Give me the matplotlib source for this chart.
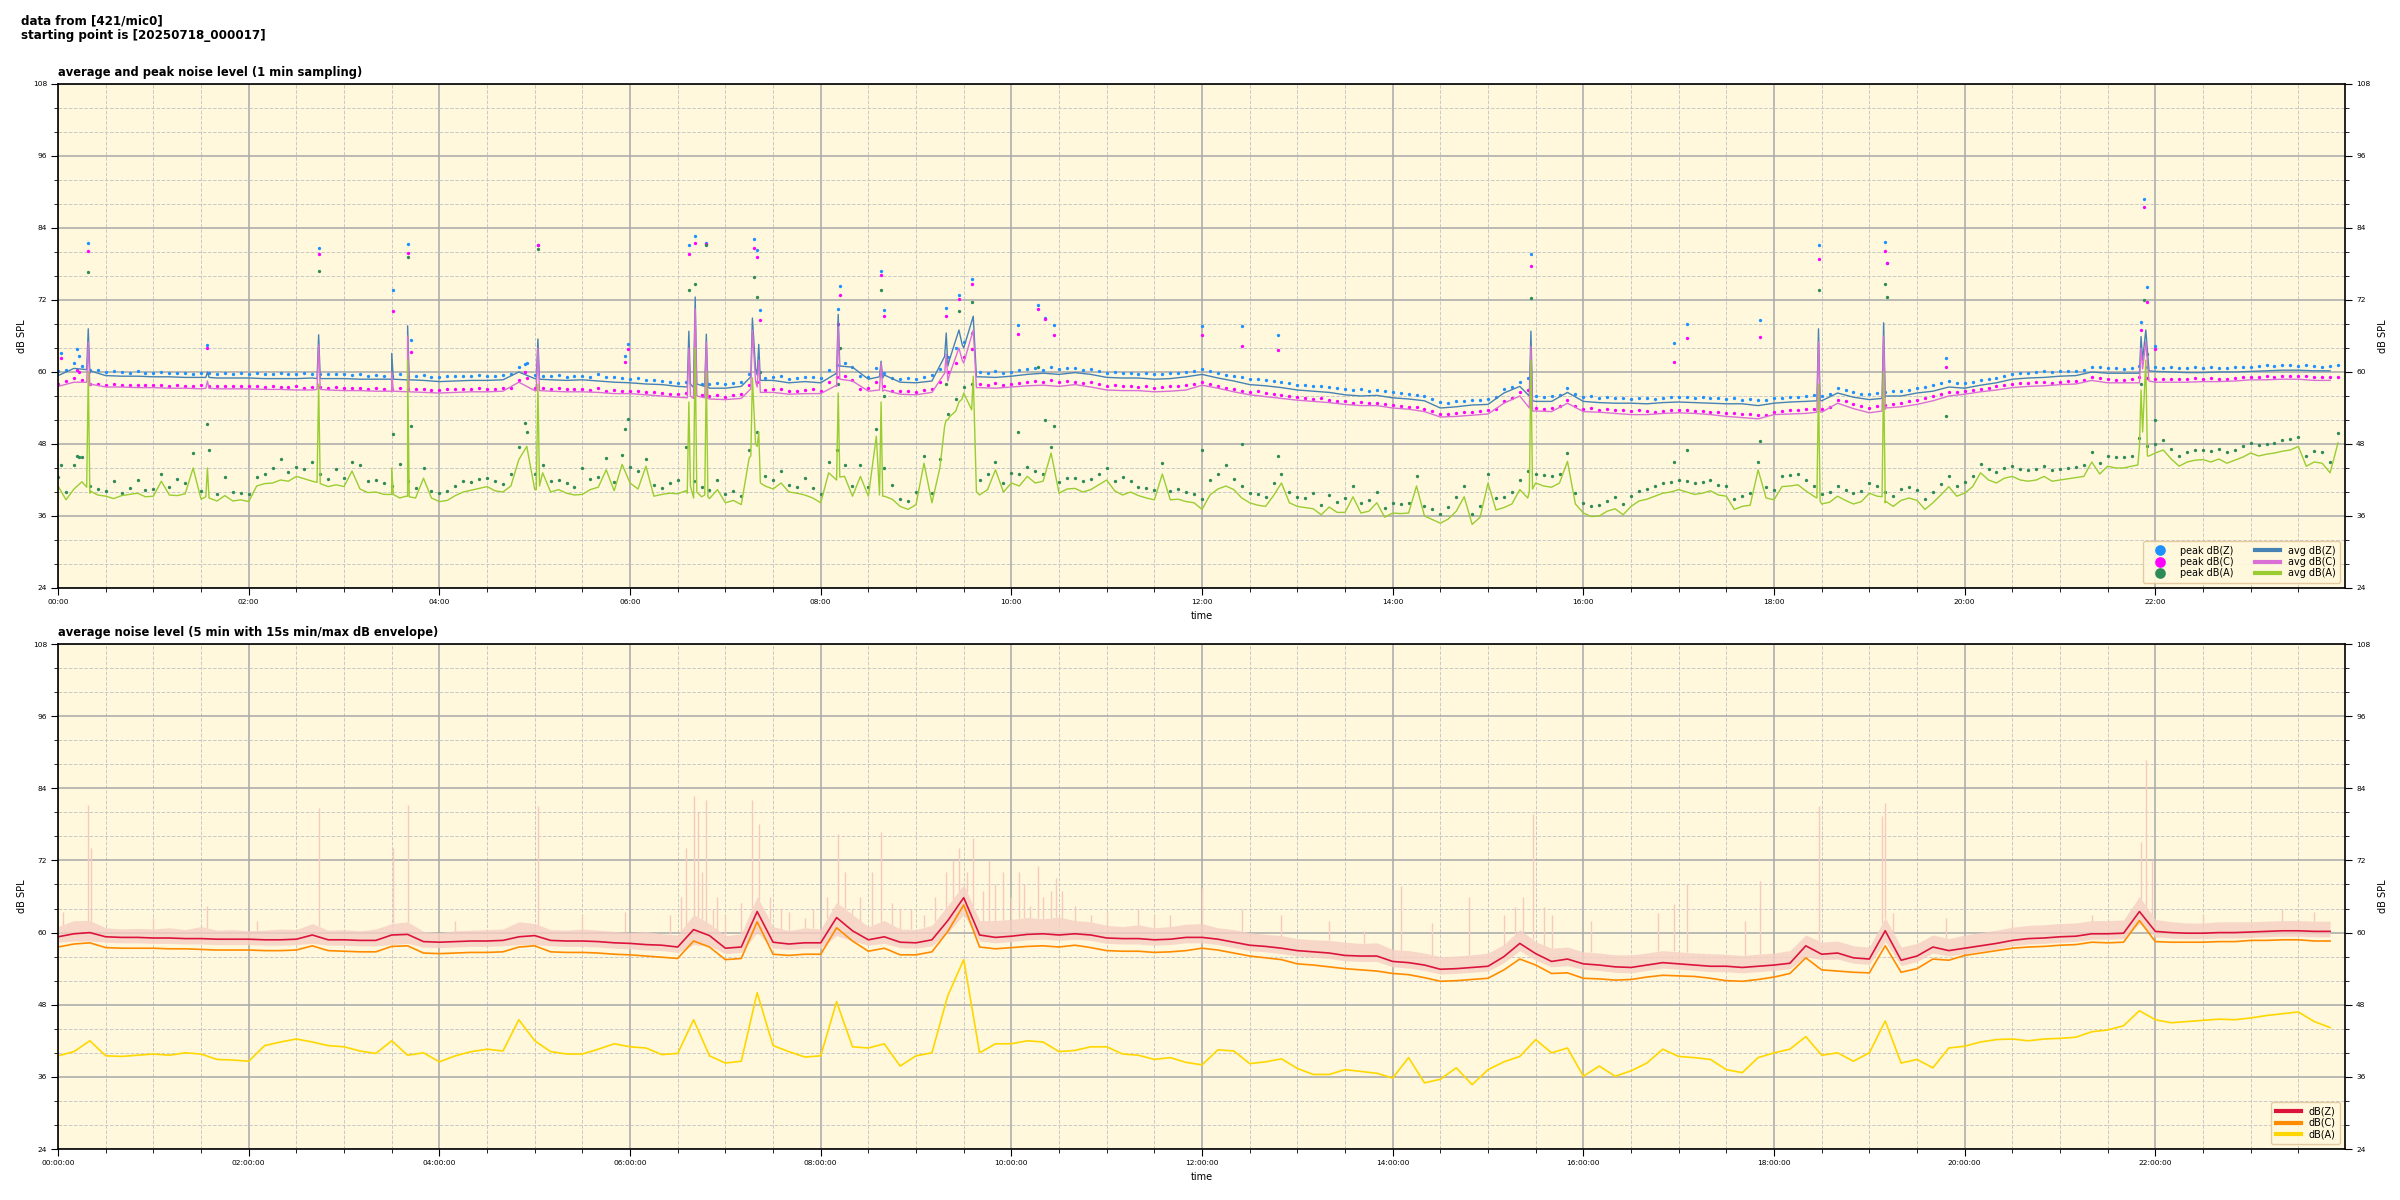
import numpy as np
import matplotlib
matplotlib.use("Agg")
import matplotlib.pyplot as plt
from matplotlib.ticker import MultipleLocator, FixedLocator, FuncFormatter

# ---------------- DATA (minutes after 00:00) ----------------
# top chart: 1-min averages, read every 10 min (Z, C) and every 5 min (A)
avg_z_10min = [
    59.4, 60.6, 59.8, 59.4, 59.3, 59.3,
    59.2, 59.2, 59.1, 59.1, 59.0, 59.0,
    59.0, 58.9, 58.9, 58.9, 59.0, 58.9,
    58.9, 58.8, 58.8, 58.7, 58.6, 58.6,
    58.4, 58.5, 58.6, 58.6, 58.7, 60.0,
    58.9, 58.7, 58.6, 58.7, 58.5, 58.3,
    58.2, 58.0, 57.9, 57.6, 57.4, 57.3,
    57.3, 57.6, 59.5, 58.6, 58.2, 58.4,
    58.2, 59.8, 60.8, 58.8, 59.5, 58.3,
    58.2, 58.5, 61.0, 64.0, 59.2, 59.1,
    59.3, 59.6, 59.8, 59.6, 59.9, 59.6,
    59.1, 59.0, 59.0, 58.8, 58.9, 59.2,
    59.6, 59.0, 58.5, 57.9, 57.7, 57.4,
    57.0, 56.8, 56.6, 56.2, 56.0, 56.1,
    55.7, 55.5, 55.2, 54.0, 54.2, 54.5,
    54.6, 56.5, 57.6, 55.1, 55.1, 56.6,
    55.1, 54.9, 54.8, 54.8, 54.7, 54.9,
    55.0, 54.9, 54.8, 54.7, 54.7, 54.4,
    54.8, 55.0, 55.1, 55.2, 56.5, 55.8,
    55.4, 55.8, 56.0, 56.5, 56.8, 57.5,
    57.3, 57.8, 58.2, 58.8, 59.0, 59.1,
    59.3, 59.4, 60.0, 59.8, 59.8, 59.8,
    60.1, 60.0, 59.9, 59.9, 60.0, 60.0,
    60.1, 60.2, 60.3, 60.3, 60.2, 60.2,
]
avg_c_10min = [
    57.6, 58.3, 57.7, 57.5, 57.5, 57.4,
    57.4, 57.3, 57.3, 57.2, 57.2, 57.2,
    57.2, 57.1, 57.1, 57.0, 57.0, 57.0,
    56.9, 56.9, 56.8, 56.7, 56.7, 56.6,
    56.5, 56.6, 56.7, 56.7, 56.8, 58.3,
    56.9, 56.8, 56.7, 56.7, 56.6, 56.4,
    56.4, 56.2, 56.0, 55.8, 55.6, 55.5,
    55.4, 55.6, 57.5, 56.6, 56.3, 56.4,
    56.4, 57.8, 58.5, 56.8, 57.0, 56.3,
    56.2, 56.6, 58.5, 61.5, 57.4, 57.3,
    57.5, 57.7, 57.8, 57.6, 57.9, 57.5,
    57.0, 56.9, 56.9, 56.7, 56.8, 57.0,
    57.8, 57.3, 56.7, 56.2, 55.9, 55.6,
    55.3, 55.1, 54.9, 54.6, 54.4, 54.4,
    54.0, 53.8, 53.4, 52.5, 52.6, 52.8,
    53.0, 54.8, 56.0, 53.5, 53.4, 54.8,
    53.4, 53.3, 53.1, 52.9, 52.9, 53.1,
    53.2, 53.1, 52.9, 52.6, 52.4, 52.2,
    52.9, 53.0, 53.1, 53.3, 54.8, 53.9,
    53.2, 53.8, 54.2, 54.6, 55.2, 56.0,
    56.3, 56.7, 57.0, 57.4, 57.6, 57.7,
    57.9, 58.0, 58.6, 58.2, 58.2, 58.2,
    58.3, 58.3, 58.3, 58.4, 58.4, 58.5,
    58.7, 58.7, 58.8, 58.8, 58.6, 58.6,
]
avg_a_5min = [
    41.0, 38.7, 40.5, 41.7, 39.8, 39.5, 39.3, 38.9, 39.4, 39.6, 39.8, 39.2,
    39.3, 41.8, 39.5, 39.4, 39.7, 44.0, 38.8, 39.0, 38.5, 39.4, 38.5, 38.7,
    38.4, 41.0, 41.4, 41.5, 42.0, 41.8, 42.6, 42.2, 41.8, 41.5, 40.9, 41.2,
    40.9, 43.5, 40.5, 39.9, 40.0, 39.6, 39.6, 39.0, 39.3, 39.0, 42.3, 39.0,
    38.4, 38.6, 39.4, 40.0, 40.3, 40.6, 40.9, 40.2, 40.0, 41.0, 45.4, 47.6,
    40.4, 43.2, 40.0, 40.4, 39.8, 39.5, 39.6, 40.4, 40.8, 43.7, 40.2, 44.6,
    41.5, 40.5, 44.3, 39.3, 39.6, 39.8, 39.7, 40.2, 39.0, 39.2, 38.9, 40.4,
    38.2, 38.6, 37.9, 45.7, 47.6, 41.0, 40.5, 41.5, 40.0, 39.8, 39.5, 39.0,
    38.2, 43.2, 42.0, 42.6, 39.3, 42.6, 39.3, 49.3, 39.3, 38.8, 37.6, 37.1,
    37.9, 44.8, 38.2, 44.0, 52.0, 53.5, 56.5, 53.7, 39.5, 40.4, 43.7, 40.0,
    41.5, 41.0, 42.6, 41.5, 41.8, 46.5, 39.8, 40.5, 40.6, 40.0, 40.4, 41.2,
    42.0, 40.2, 39.5, 40.0, 39.4, 39.0, 38.7, 43.0, 38.7, 38.8, 38.4, 38.2,
    37.1, 39.5, 40.5, 41.0, 40.4, 39.0, 38.2, 37.8, 37.6, 39.4, 41.5, 38.2,
    37.6, 37.4, 37.2, 36.2, 37.5, 36.6, 36.6, 39.2, 36.5, 36.8, 38.2, 35.8,
    36.5, 36.4, 36.5, 41.0, 36.0, 35.4, 34.8, 35.5, 36.8, 39.2, 34.6, 35.8,
    41.5, 37.0, 37.4, 38.0, 40.4, 39.0, 41.5, 41.0, 40.8, 41.5, 45.1, 38.0,
    36.5, 35.9, 36.0, 36.8, 37.2, 36.2, 37.6, 38.5, 38.8, 39.3, 39.8, 40.0,
    40.4, 40.0, 39.6, 39.8, 40.2, 39.5, 39.3, 37.1, 37.6, 37.8, 43.7, 39.0,
    38.7, 40.9, 41.0, 41.2, 40.2, 39.3, 38.0, 38.3, 39.3, 38.6, 38.0, 38.4,
    39.8, 39.3, 38.2, 37.6, 38.6, 39.0, 38.6, 37.1, 38.2, 39.5, 40.9, 39.3,
    39.8, 40.9, 43.2, 42.0, 41.5, 42.3, 42.6, 42.0, 41.8, 42.0, 42.6, 41.8,
    42.0, 42.2, 42.4, 42.6, 45.0, 43.0, 44.3, 44.0, 44.0, 44.3, 47.6, 46.0,
    46.5, 47.0, 45.5, 44.3, 45.0, 45.3, 45.4, 45.0, 45.5, 44.8, 45.3, 45.8,
    46.5, 46.0, 46.3, 46.5, 46.8, 47.0, 47.6, 44.3, 45.0, 44.8, 43.2, 48.2,
]
# short events in the 1-min averages: minute, Z, C, A
spike_t = [18, 19, 20, 93, 94, 95, 163, 164, 165, 209, 210, 211, 219, 220, 221,
           301, 302, 303, 396, 397, 398, 400, 401, 402, 407, 408, 409,
           436, 437, 439, 441, 442, 490, 491, 492, 517, 518, 519,
           558, 559, 561, 567, 569, 576, 578, 926, 927, 928,
           1107, 1108, 1109, 1148, 1149, 1150, 1309, 1311, 1312, 1314, 1316]
spike_z = [60.4, 67.2, 60.2, 59.1, 60.0, 59.1, 58.9, 66.2, 58.9, 58.8, 63.1, 58.8, 58.7, 67.7, 58.7,
           58.9, 65.5, 58.8, 57.5, 66.8, 58.0, 58.5, 72.5, 58.0, 57.6, 66.3, 57.5,
           59.2, 69.0, 60.5, 64.6, 58.6, 59.6, 69.6, 61.0, 59.2, 61.8, 59.0,
           62.6, 66.5, 62.0, 67.0, 64.6, 69.3, 59.2, 56.0, 66.8, 55.2,
           55.2, 67.2, 55.3, 55.6, 68.2, 56.0, 59.8, 65.9, 62.0, 67.0, 60.2]
spike_c = [58.3, 65.0, 58.0, 57.3, 58.5, 57.3, 57.1, 64.5, 57.1, 56.8, 60.0, 56.8, 56.7, 66.0, 56.7,
           56.9, 64.0, 56.9, 55.7, 64.0, 56.0, 56.5, 70.5, 56.0, 55.7, 65.0, 55.6,
           57.2, 67.0, 58.4, 62.0, 56.6, 57.6, 67.5, 58.8, 57.0, 61.5, 56.8,
           59.8, 63.0, 59.5, 64.0, 62.0, 67.0, 57.4, 54.0, 64.3, 53.5,
           53.3, 65.0, 53.4, 53.5, 66.0, 54.0, 58.2, 64.0, 60.5, 65.0, 58.5]
spike_a = [40.8, 60.0, 40.2, 39.2, 44.0, 39.0, 41.6, 58.0, 41.4, 39.6, 44.0, 39.6, 39.3, 62.0, 39.2,
           40.4, 58.0, 41.0, 39.8, 55.0, 41.0, 42.0, 64.0, 40.0, 39.5, 60.0, 39.2,
           46.0, 59.0, 48.0, 50.0, 41.5, 42.0, 56.5, 42.5, 39.5, 55.0, 39.3,
           51.0, 52.0, 52.5, 55.0, 55.5, 59.3, 40.0, 40.0, 62.0, 40.5,
           39.0, 58.0, 38.5, 39.2, 60.0, 38.5, 44.5, 57.0, 50.0, 62.0, 46.0]

# top chart: peak levels, read every 5 min
peak_z_5min = [
    60.2, 60.4, 61.5, 61.0, 60.4, 60.3, 60.0, 60.1, 60.0, 59.9, 60.1, 59.9,
    59.9, 60.0, 59.8, 59.9, 59.8, 59.7, 59.9, 59.8, 59.7, 59.8, 59.7, 59.8,
    59.7, 59.8, 59.6, 59.7, 59.8, 59.6, 59.7, 59.8, 59.6, 59.7, 59.6, 59.7,
    59.6, 59.5, 59.6, 59.4, 59.5, 59.4, 59.3, 59.6, 59.4, 59.3, 59.5, 59.2,
    59.2, 59.3, 59.3, 59.4, 59.3, 59.5, 59.4, 59.3, 59.5, 59.6, 60.8, 61.5,
    59.5, 59.4, 59.3, 59.5, 59.2, 59.4, 59.3, 59.2, 59.6, 59.1, 59.2, 59.0,
    58.9, 59.0, 58.7, 58.6, 58.5, 58.3, 58.2, 58.4, 58.1, 58.0, 58.0, 58.1,
    58.0, 58.2, 58.4, 59.6, 60.4, 59.0, 59.2, 59.4, 58.9, 59.0, 59.1, 59.2,
    59.0, 60.4, 61.2, 61.5, 60.8, 59.3, 59.2, 60.6, 59.8, 59.0, 58.9, 59.0,
    58.9, 59.2, 59.5, 60.5, 62.5, 64.0, 65.0, 66.5, 60.0, 59.9, 60.2, 59.9,
    60.0, 60.3, 60.5, 60.7, 60.4, 60.8, 60.5, 60.7, 60.6, 60.3, 60.5, 60.2,
    59.9, 60.0, 59.8, 59.9, 59.7, 59.8, 59.6, 59.7, 59.8, 59.9, 60.0, 60.2,
    60.5, 60.2, 59.8, 59.5, 59.3, 59.1, 58.8, 58.9, 58.6, 58.5, 58.4, 58.2,
    57.9, 57.8, 57.6, 57.7, 57.5, 57.3, 57.2, 57.0, 57.1, 56.9, 57.0, 56.8,
    56.6, 56.5, 56.3, 56.2, 56.0, 55.5, 55.0, 54.9, 55.1, 55.2, 55.3, 55.4,
    55.5, 55.8, 57.2, 57.5, 58.4, 59.0, 56.0, 55.9, 56.0, 56.2, 57.3, 56.3,
    55.9, 56.0, 55.7, 55.8, 55.6, 55.7, 55.5, 55.7, 55.6, 55.5, 55.7, 55.8,
    55.9, 55.8, 55.7, 55.8, 55.6, 55.7, 55.5, 55.6, 55.4, 55.5, 55.3, 55.4,
    55.6, 55.7, 55.8, 55.9, 56.0, 56.1, 56.0, 56.3, 57.3, 57.0, 56.6, 56.4,
    56.3, 56.5, 56.6, 56.8, 56.9, 57.0, 57.3, 57.5, 57.8, 58.2, 58.5, 58.2,
    58.1, 58.3, 58.6, 58.8, 59.0, 59.3, 59.6, 59.8, 59.9, 60.0, 60.1, 60.0,
    60.1, 60.2, 60.2, 60.4, 60.9, 60.8, 60.6, 60.6, 60.5, 60.7, 61.0, 60.8,
    60.8, 60.7, 60.8, 60.7, 60.6, 60.8, 60.7, 60.8, 60.6, 60.7, 60.8, 60.9,
    60.9, 61.0, 61.1, 61.0, 61.2, 61.1, 61.0, 61.1, 61.0, 60.9, 61.0, 61.1,
]
peak_c_5min = [
    58.0, 58.5, 59.0, 58.6, 58.0, 58.0, 57.9, 58.0, 57.9, 57.8, 57.9, 57.8,
    57.8, 57.9, 57.7, 57.8, 57.7, 57.6, 57.8, 57.7, 57.6, 57.7, 57.6, 57.7,
    57.6, 57.7, 57.5, 57.6, 57.5, 57.5, 57.6, 57.4, 57.5, 57.5, 57.4, 57.5,
    57.4, 57.3, 57.4, 57.2, 57.3, 57.2, 57.1, 57.3, 57.2, 57.1, 57.2, 57.0,
    57.0, 57.1, 57.1, 57.2, 57.1, 57.3, 57.2, 57.1, 57.3, 57.4, 58.6, 59.0,
    57.4, 57.3, 57.2, 57.3, 57.1, 57.2, 57.1, 57.0, 57.3, 56.9, 57.0, 56.9,
    56.9, 56.8, 56.7, 56.6, 56.5, 56.4, 56.3, 56.5, 56.2, 56.1, 56.0, 56.1,
    55.9, 56.1, 56.3, 57.8, 58.4, 57.0, 57.1, 57.2, 56.8, 56.9, 57.0, 57.1,
    56.9, 58.3, 59.1, 59.3, 58.6, 57.2, 57.3, 58.3, 57.6, 56.9, 56.8, 56.9,
    56.7, 57.0, 57.2, 58.3, 60.0, 61.5, 62.5, 63.8, 58.0, 57.9, 58.1, 57.8,
    58.0, 58.2, 58.4, 58.5, 58.3, 58.6, 58.3, 58.5, 58.4, 58.1, 58.3, 58.0,
    57.7, 57.8, 57.6, 57.7, 57.5, 57.6, 57.4, 57.5, 57.6, 57.7, 57.8, 58.0,
    58.3, 58.0, 57.6, 57.3, 57.1, 56.9, 56.7, 56.8, 56.5, 56.4, 56.2, 56.0,
    55.8, 55.7, 55.5, 55.6, 55.4, 55.2, 55.1, 54.9, 55.0, 54.8, 54.9, 54.7,
    54.5, 54.4, 54.2, 54.1, 53.9, 53.5, 53.0, 53.0, 53.2, 53.3, 53.4, 53.5,
    53.6, 53.9, 55.2, 55.6, 56.6, 57.0, 54.0, 53.9, 54.0, 54.3, 55.4, 54.3,
    53.9, 54.0, 53.7, 53.8, 53.6, 53.7, 53.5, 53.6, 53.5, 53.4, 53.5, 53.6,
    53.7, 53.6, 53.5, 53.5, 53.3, 53.4, 53.2, 53.2, 53.0, 53.0, 52.9, 52.8,
    53.4, 53.5, 53.6, 53.7, 53.8, 53.9, 53.8, 54.1, 55.4, 55.1, 54.6, 54.4,
    54.0, 54.3, 54.5, 54.7, 54.9, 55.1, 55.4, 55.6, 56.0, 56.4, 56.7, 56.6,
    56.8, 57.0, 57.2, 57.4, 57.6, 57.9, 58.0, 58.1, 58.2, 58.3, 58.3, 58.2,
    58.4, 58.5, 58.5, 58.6, 59.1, 59.0, 58.8, 58.7, 58.7, 58.9, 59.2, 59.0,
    58.9, 58.8, 58.9, 58.8, 58.8, 59.0, 58.9, 59.0, 58.9, 58.9, 59.0, 59.1,
    59.2, 59.2, 59.3, 59.2, 59.4, 59.3, 59.3, 59.4, 59.2, 59.1, 59.1, 59.2,
]
peak_a_5min = [
    42.5, 40.0, 44.5, 45.8, 41.0, 40.5, 40.2, 41.8, 39.8, 40.6, 42.0, 40.3,
    40.5, 43.0, 40.8, 42.2, 41.5, 46.5, 40.2, 47.0, 39.6, 42.5, 40.0, 39.8,
    39.6, 42.5, 43.0, 44.0, 45.5, 43.4, 44.2, 43.8, 45.0, 43.0, 42.2, 43.8,
    42.4, 45.0, 44.5, 41.8, 42.0, 41.5, 41.0, 44.6, 41.8, 40.6, 44.0, 40.2,
    39.8, 40.1, 41.0, 41.8, 41.6, 42.2, 42.3, 41.8, 41.4, 43.0, 47.5, 50.0,
    43.0, 44.5, 41.8, 42.0, 41.5, 40.8, 44.0, 42.2, 42.5, 45.6, 41.6, 46.2,
    44.2, 43.5, 45.5, 41.2, 40.6, 41.5, 42.0, 47.5, 41.8, 40.8, 40.4, 42.0,
    39.6, 40.2, 39.4, 47.0, 50.0, 42.6, 42.0, 43.5, 41.2, 40.8, 42.4, 40.6,
    39.6, 45.0, 47.0, 44.5, 41.0, 44.5, 40.8, 50.5, 44.0, 41.2, 38.8, 38.5,
    40.0, 46.0, 39.8, 45.5, 53.0, 55.5, 57.5, 58.0, 42.0, 43.0, 45.0, 41.5,
    43.2, 43.0, 44.2, 43.5, 43.0, 47.5, 41.6, 42.3, 42.4, 41.8, 42.2, 43.0,
    44.0, 41.8, 42.5, 41.8, 40.9, 40.6, 40.3, 44.8, 40.2, 40.5, 40.0, 39.6,
    38.8, 42.0, 43.0, 44.5, 42.2, 41.0, 39.8, 39.6, 39.2, 41.5, 43.0, 40.0,
    39.2, 39.0, 39.8, 37.8, 39.5, 38.4, 39.0, 41.0, 38.2, 38.6, 40.0, 37.4,
    38.2, 38.0, 38.2, 42.6, 37.6, 37.2, 36.4, 37.5, 39.2, 41.0, 36.4, 37.6,
    43.0, 39.0, 39.2, 40.0, 42.0, 43.5, 43.0, 42.8, 42.6, 43.0, 46.5, 39.8,
    38.2, 37.6, 37.8, 38.5, 39.2, 38.0, 39.4, 40.2, 40.5, 41.0, 41.5, 41.6,
    42.0, 41.8, 41.5, 41.6, 42.0, 41.2, 41.0, 38.8, 39.4, 39.8, 45.0, 40.8,
    40.4, 42.6, 42.8, 43.0, 42.0, 41.0, 39.6, 40.0, 41.0, 40.4, 39.8, 40.2,
    41.5, 41.0, 40.0, 39.4, 40.5, 40.8, 40.4, 38.8, 40.0, 41.4, 42.6, 41.0,
    41.6, 42.6, 44.6, 43.8, 43.4, 44.0, 44.4, 43.8, 43.6, 43.8, 44.4, 43.6,
    43.8, 44.0, 44.2, 44.5, 46.6, 44.8, 46.0, 45.8, 45.8, 46.0, 49.0, 47.6,
    48.0, 48.6, 47.2, 46.0, 46.6, 47.0, 47.0, 46.8, 47.2, 46.6, 47.0, 47.6,
    48.2, 47.8, 48.0, 48.2, 48.6, 48.8, 49.2, 46.0, 46.8, 46.6, 45.0, 49.8,
]
# isolated high peaks: minute, Z, C, A
hipk_t = [2, 12, 13, 19, 94, 164, 211, 220, 222, 294, 302, 357, 359, 397, 401, 408,
          438, 440, 442, 491, 492, 518, 520, 559, 567, 575, 604, 617, 621, 627,
          720, 745, 768, 927, 1017, 1025, 1071, 1108, 1150, 1151, 1188,
          1311, 1313, 1315, 1320]
hipk_z = [63.2, 63.8, 62.7, 81.5, 64.5, 80.7, 73.7, 81.4, 65.4, 61.4, 81.2, 62.6, 64.7, 81.1, 82.7, 81.5,
          82.1, 80.4, 70.3, 70.5, 74.3, 76.9, 70.4, 70.7, 72.9, 75.5, 67.9, 71.2, 69.0, 67.9,
          67.7, 67.7, 66.1, 79.7, 64.8, 68.0, 68.6, 81.1, 81.7, 78.2, 62.3,
          68.3, 88.8, 74.2, 64.3]
hipk_c = [62.3, 60.4, 60.0, 80.2, 64.0, 79.6, 70.2, 79.8, 63.4, 60.0, 81.2, 61.7, 63.8, 79.6, 81.5, 81.4,
          80.7, 79.2, 68.7, 68.0, 72.8, 76.1, 69.3, 69.3, 72.1, 74.6, 66.4, 70.5, 68.8, 66.2,
          66.2, 64.3, 63.7, 77.7, 61.7, 65.6, 65.8, 78.8, 80.1, 78.2, 60.9,
          67.0, 87.5, 71.7, 63.8]
hipk_a = [44.5, 46.0, 45.8, 76.7, 51.4, 76.9, 49.7, 79.2, 51.0, 51.5, 80.5, 50.5, 52.2, 73.6, 74.7, 81.1,
          75.8, 72.5, 60.0, 58.0, 64.0, 73.6, 56.0, 58.0, 70.1, 71.6, 50.0, 60.8, 52.0, 51.0,
          47.0, 48.0, 46.0, 72.3, 45.0, 47.0, 48.5, 73.6, 74.7, 72.5, 52.6,
          58.0, 72.0, 63.0, 52.0]

# bottom chart: 5-min averages, read every 10 min
avg5_z = [
    59.3, 59.8, 60.0, 59.3, 59.2, 59.2,
    59.1, 59.1, 59.0, 59.0, 58.9, 58.9,
    58.9, 58.8, 58.8, 58.9, 59.6, 58.8,
    58.8, 58.7, 58.7, 59.6, 59.7, 58.5,
    58.4, 58.5, 58.6, 58.6, 58.7, 59.3,
    59.5, 58.7, 58.6, 58.6, 58.5, 58.3,
    58.2, 58.0, 57.9, 57.6, 60.5, 59.5,
    57.4, 57.6, 63.5, 58.4, 58.1, 58.3,
    58.3, 62.5, 60.3, 58.8, 59.3, 58.4,
    58.3, 58.8, 62.0, 65.8, 59.6, 59.2,
    59.4, 59.7, 59.8, 59.6, 59.8, 59.6,
    59.1, 59.0, 59.0, 58.8, 58.9, 59.2,
    59.2, 58.9, 58.4, 57.9, 57.7, 57.4,
    57.0, 56.8, 56.6, 56.2, 56.1, 56.1,
    55.2, 55.0, 54.6, 53.9, 54.0, 54.2,
    54.4, 56.0, 58.2, 56.5, 55.2, 55.6,
    54.8, 54.6, 54.3, 54.2, 54.6, 55.0,
    54.8, 54.6, 54.4, 54.4, 54.2, 54.4,
    54.6, 54.9, 57.8, 56.4, 56.6, 55.8,
    55.6, 60.3, 55.4, 56.1, 57.6, 57.0,
    57.4, 57.8, 58.2, 58.7, 59.0, 59.1,
    59.3, 59.4, 59.8, 59.8, 59.9, 63.5,
    60.2, 60.0, 59.9, 59.9, 60.0, 60.0,
    60.1, 60.2, 60.3, 60.3, 60.2, 60.2,
]
avg5_c = [
    57.6, 58.1, 58.3, 57.5, 57.4, 57.4,
    57.4, 57.3, 57.3, 57.2, 57.1, 57.1,
    57.1, 57.0, 57.0, 57.1, 57.8, 57.0,
    56.9, 56.8, 56.8, 57.7, 57.8, 56.6,
    56.5, 56.6, 56.7, 56.7, 56.8, 57.6,
    57.8, 56.8, 56.7, 56.7, 56.6, 56.4,
    56.3, 56.1, 55.9, 55.7, 58.6, 57.6,
    55.5, 55.7, 61.8, 56.4, 56.2, 56.4,
    56.4, 60.8, 58.6, 56.9, 57.4, 56.3,
    56.3, 56.8, 60.2, 64.6, 57.6, 57.3,
    57.5, 57.7, 57.8, 57.6, 57.9, 57.5,
    57.0, 56.9, 56.9, 56.7, 56.8, 57.0,
    57.4, 57.1, 56.6, 56.1, 55.8, 55.5,
    54.8, 54.6, 54.3, 54.0, 53.8, 53.6,
    53.2, 53.0, 52.5, 51.9, 52.0, 52.2,
    52.4, 53.8, 55.6, 54.6, 53.2, 53.3,
    52.4, 52.3, 52.1, 52.2, 52.6, 52.9,
    52.8, 52.7, 52.4, 52.0, 51.9, 52.2,
    52.6, 53.2, 55.8, 53.8, 53.6, 53.4,
    53.3, 57.8, 53.4, 54.0, 55.6, 55.4,
    56.2, 56.6, 57.0, 57.4, 57.6, 57.7,
    57.9, 58.0, 58.4, 58.3, 58.4, 62.0,
    58.5, 58.4, 58.4, 58.4, 58.5, 58.5,
    58.7, 58.7, 58.8, 58.8, 58.6, 58.6,
]
avg5_a = [
    39.5, 40.2, 42.0, 39.5, 39.4, 39.6,
    39.8, 39.6, 40.0, 39.8, 38.9, 38.8,
    38.6, 41.2, 41.8, 42.3, 41.8, 41.2,
    41.0, 40.3, 39.9, 42.0, 39.6, 40.0,
    38.5, 39.5, 40.2, 40.6, 40.3, 45.5,
    42.0, 40.2, 39.8, 39.8, 40.6, 41.5,
    41.0, 40.8, 39.7, 39.9, 45.5, 39.5,
    38.3, 38.6, 50.0, 41.2, 40.2, 39.3,
    39.5, 48.5, 41.0, 40.8, 41.5, 37.8,
    39.5, 40.0, 49.5, 55.5, 40.0, 41.5,
    41.5, 42.0, 41.8, 40.2, 40.4, 41.0,
    41.0, 39.8, 39.6, 38.9, 39.2, 38.4,
    38.0, 40.5, 40.3, 38.2, 38.5, 39.0,
    37.4, 36.4, 36.4, 37.2, 36.9, 36.6,
    35.8, 39.2, 35.0, 35.6, 37.5, 34.7,
    37.2, 38.5, 39.4, 42.2, 40.0, 40.8,
    36.1, 37.8, 36.1, 37.0, 38.3, 40.6,
    39.4, 39.2, 38.9, 37.2, 36.7, 39.2,
    40.0, 40.6, 42.7, 39.6, 40.0, 38.6,
    40.0, 45.3, 38.3, 38.9, 37.5, 40.8,
    41.1, 41.8, 42.2, 42.3, 42.0, 42.3,
    42.4, 42.6, 43.5, 43.8, 44.5, 47.0,
    45.5, 45.0, 45.2, 45.4, 45.6, 45.5,
    45.8, 46.2, 46.5, 46.8, 45.2, 44.2,
]
# 15 s min/max envelope of dB(Z), read every 10 min
env_hi = [
    61.0, 62.0, 62.0, 60.8, 60.6, 60.7,
    60.6, 60.8, 60.5, 61.0, 60.4, 60.5,
    60.3, 60.4, 60.6, 60.5, 61.5, 60.4,
    60.5, 60.3, 60.6, 61.5, 61.8, 60.2,
    60.0, 60.3, 60.4, 60.5, 60.6, 61.8,
    61.5, 60.5, 60.4, 60.6, 60.4, 60.2,
    60.0, 60.2, 59.8, 59.6, 63.0, 61.5,
    59.5, 59.8, 66.0, 61.0, 60.3, 60.8,
    60.6, 65.0, 63.0, 61.0, 62.0, 60.6,
    60.5, 61.2, 64.5, 68.0, 62.0, 62.0,
    62.2, 62.5, 62.3, 62.6, 62.0, 61.8,
    61.2, 61.0, 61.3, 60.8, 61.0, 61.4,
    61.5, 60.8, 60.5, 60.0, 59.7, 59.5,
    59.0, 58.8, 58.7, 58.4, 58.2, 58.3,
    57.2, 57.0, 56.6, 56.0, 56.1, 56.3,
    56.6, 58.0, 60.5, 58.5, 57.4, 57.6,
    56.8, 56.6, 56.3, 56.3, 56.6, 57.0,
    56.8, 56.6, 56.5, 56.4, 56.2, 56.4,
    56.6, 57.0, 59.6, 58.4, 58.6, 57.8,
    57.6, 62.5, 57.6, 58.2, 59.6, 59.0,
    59.6, 60.0, 60.4, 60.9, 61.2, 61.3,
    61.5, 61.6, 62.0, 62.0, 62.1, 66.0,
    62.2, 61.8, 61.6, 61.6, 61.8, 61.8,
    61.8, 61.9, 62.0, 62.0, 61.9, 61.9,
]
env_lo = [
    58.4, 58.6, 58.6, 58.4, 58.3, 58.3,
    58.2, 58.2, 58.1, 58.1, 58.0, 58.0,
    58.0, 57.9, 57.9, 58.0, 58.2, 57.9,
    57.9, 57.8, 57.8, 58.0, 58.2, 57.6,
    57.5, 57.6, 57.7, 57.7, 57.8, 58.0,
    58.0, 57.8, 57.7, 57.7, 57.6, 57.4,
    57.3, 57.1, 57.0, 56.7, 58.0, 57.8,
    56.5, 56.7, 60.0, 57.4, 57.2, 57.4,
    57.4, 59.5, 58.6, 57.9, 58.2, 57.5,
    57.4, 57.8, 60.0, 63.0, 58.6, 58.3,
    58.5, 58.8, 58.9, 58.7, 58.9, 58.7,
    58.2, 58.1, 58.1, 57.9, 58.0, 58.3,
    58.3, 58.0, 57.5, 57.0, 56.8, 56.5,
    56.1, 55.9, 55.7, 55.3, 55.2, 55.2,
    54.3, 54.1, 53.7, 53.1, 53.2, 53.4,
    53.6, 55.0, 57.0, 55.4, 54.3, 54.5,
    53.9, 53.7, 53.4, 53.3, 53.7, 54.1,
    53.9, 53.7, 53.5, 53.5, 53.3, 53.5,
    53.7, 54.0, 56.0, 55.5, 55.6, 54.9,
    54.7, 58.5, 54.5, 55.2, 56.6, 56.1,
    56.5, 56.9, 57.3, 57.8, 58.1, 58.2,
    58.4, 58.5, 58.9, 58.9, 59.0, 61.5,
    59.3, 59.1, 59.0, 59.0, 59.1, 59.1,
    59.2, 59.3, 59.4, 59.4, 59.3, 59.3,
]
# short 15 s maxima sticking out of the envelope: minute, dB
env_spike_t = [3, 19, 21, 60, 94, 125, 164, 211, 220, 250, 302, 330, 357, 385, 392, 395, 400, 403, 405,
               408, 412, 415, 420, 430, 437, 441, 448, 455, 460, 470, 475, 484, 491, 495, 500, 505,
               512, 518, 525, 530, 537, 545, 552, 559, 563, 567, 572, 576, 582, 586, 590, 595, 600,
               605, 608, 612, 617, 620, 625, 628, 632, 640, 650, 660, 680, 690, 700, 720, 745, 770,
               800, 822, 845, 865, 888, 910, 917, 922, 928, 935, 940, 965, 1007, 1017, 1025, 1062,
               1071, 1108, 1148, 1150, 1155, 1188, 1230, 1280, 1311, 1314, 1318, 1350, 1400, 1420]
env_spike_v = [63.5, 81.3, 74.0, 62.5, 64.5, 62.0, 80.8, 74.0, 81.3, 62.0, 81.0, 63.0, 63.5, 63.0, 66.0, 74.0, 82.8, 80.0, 70.0,
               82.0, 64.0, 66.0, 63.0, 65.0, 82.0, 78.0, 66.0, 64.0, 63.5, 62.5, 64.0, 66.0, 76.4, 70.0, 64.0, 66.0,
               70.0, 76.7, 65.0, 64.0, 64.0, 63.0, 66.0, 70.0, 72.0, 74.0, 70.0, 75.7, 67.0, 72.0, 68.0, 70.0, 66.0,
               70.0, 68.0, 64.5, 71.0, 66.0, 67.0, 69.0, 67.0, 64.5, 63.0, 63.5, 64.0, 63.0, 63.0, 67.5, 64.0, 63.0,
               62.0, 60.3, 67.7, 61.6, 66.0, 63.0, 64.2, 66.0, 79.7, 64.3, 63.0, 62.0, 63.3, 64.8, 68.0, 62.0,
               68.5, 81.0, 79.4, 81.6, 63.3, 62.5, 62.0, 63.0, 75.0, 88.7, 72.0, 63.0, 64.0, 63.5]
# x tick positions (hours) shown on both charts
major_hours = [0, 2, 4, 6, 8, 10, 12, 14, 16, 18, 20, 22]

# ---------------- DRAWING ----------------
BG = "#fff8dc"
TICK_FS = 5.4
X_END = 23.99  # last sample of the day (hours)


def hours(minutes):
    return np.asarray(minutes, dtype=float) / 60.0


def merge(t1, v1, t2, v2):
    t = np.concatenate([np.asarray(t1, float), np.asarray(t2, float)])
    v = np.concatenate([np.asarray(v1, float), np.asarray(v2, float)])
    o = np.argsort(t, kind="stable")
    return t[o], v[o]


def style(ax, fmt):
    ax.set_facecolor(BG)
    ax.set_xlim(0, X_END)
    ax.set_ylim(24, 108)
    ax.xaxis.set_major_locator(FixedLocator(major_hours))
    ax.xaxis.set_minor_locator(FixedLocator([h + m for h in major_hours for m in (0.5, 1.0, 1.5)]))
    ax.yaxis.set_major_locator(MultipleLocator(12))
    ax.yaxis.set_minor_locator(MultipleLocator(4))
    ax.xaxis.set_major_formatter(FuncFormatter(fmt))
    ax.grid(which="major", color="#a8a8a8", lw=1.1, ls="-")
    ax.grid(which="minor", color="#c9c9c9", lw=0.7, ls="--")
    ax.set_axisbelow(True)
    ax.tick_params(which="major", labelsize=TICK_FS, length=5, width=0.8, pad=3)
    ax.tick_params(which="minor", length=3, width=0.6)
    ax.tick_params(axis="y", which="both", left=True, right=True, labelleft=True, labelright=True)
    ax.set_ylabel("dB SPL", fontsize=7)
    ax.set_xlabel("time", fontsize=7)
    ax.text(1.0165, 0.5, "dB SPL", rotation=90, fontsize=7, ha="center", va="center",
            transform=ax.transAxes)
    for s in ax.spines.values():
        s.set_linewidth(1.2)


fig = plt.figure(figsize=(24, 12), dpi=100)
fig.text(0.0088, 0.988, "data from [421/mic0]\nstarting point is [20250718_000017]",
         fontsize=8.6, fontweight="bold", va="top", ha="left")

ax1 = fig.add_axes([0.0242, 0.51, 0.9529, 0.42])
ax2 = fig.add_axes([0.0242, 0.0425, 0.9529, 0.4208])
style(ax1, lambda x, p: "%02d:%02d" % (int(round(x * 60)) // 60, int(round(x * 60)) % 60))
style(ax2, lambda x, p: "%02d:%02d:00" % (int(round(x * 60)) // 60, int(round(x * 60)) % 60))
ax1.set_title("average and peak noise level (1 min sampling)", loc="left",
              fontsize=8.3, fontweight="bold", pad=6)
ax2.set_title("average noise level (5 min with 15s min/max dB envelope)", loc="left",
              fontsize=8.3, fontweight="bold", pad=6)

# --- top chart
t5 = np.arange(0, 1440, 5)
t10 = np.arange(0, 1440, 10)
pz_t, pz_v = merge(t5, peak_z_5min, hipk_t, hipk_z)
pc_t, pc_v = merge(t5, peak_c_5min, hipk_t, hipk_c)
pa_t, pa_v = merge(t5, peak_a_5min, hipk_t, hipk_a)
ms = 2.4
ax1.plot(hours(pz_t), pz_v, ls="none", marker="o", ms=ms, mew=0, color="#1e90ff", label="peak dB(Z)")
ax1.plot(hours(pc_t), pc_v, ls="none", marker="o", ms=ms, mew=0, color="#ff00ff", label="peak dB(C)")
ax1.plot(hours(pa_t), pa_v, ls="none", marker="o", ms=ms, mew=0, color="#2e8b57", label="peak dB(A)")
az_t, az_v = merge(t10, avg_z_10min, spike_t, spike_z)
ac_t, ac_v = merge(t10, avg_c_10min, spike_t, spike_c)
aa_t, aa_v = merge(t5, avg_a_5min, spike_t, spike_a)
ax1.plot(hours(az_t), az_v, color="#4682b4", lw=1.0, label="avg dB(Z)")
ax1.plot(hours(ac_t), ac_v, color="#da70d6", lw=1.0, label="avg dB(C)")
ax1.plot(hours(aa_t), aa_v, color="#9acd32", lw=1.0, label="avg dB(A)")
leg1 = ax1.legend(loc="lower right", ncol=2, fontsize=6.9, markerscale=3.2,
                  facecolor=BG, edgecolor="#e3c79b", framealpha=0.9,
                  handlelength=2.6, columnspacing=2.2, borderpad=0.5, labelspacing=0.15)
for ln in leg1.get_lines():
    ln.set_linewidth(3.0)

# --- bottom chart
ax2.fill_between(hours(t10), env_lo, env_hi, color="#f6cfc4", lw=0, alpha=0.8)
base = np.interp(env_spike_t, t10, env_hi)
ax2.vlines(hours(env_spike_t), base, env_spike_v, color="#f6cabe", lw=1.0)
ax2.plot(hours(t10), avg5_z, color="#dc143c", lw=1.2, label="dB(Z)")
ax2.plot(hours(t10), avg5_c, color="#ff8c00", lw=1.2, label="dB(C)")
ax2.plot(hours(t10), avg5_a, color="#ffd700", lw=1.2, label="dB(A)")
leg2 = ax2.legend(loc="lower right", fontsize=6.9, facecolor=BG, edgecolor="#e3c79b",
                  framealpha=0.9, handlelength=2.6, borderpad=0.5, labelspacing=0.15)
for ln in leg2.get_lines():
    ln.set_linewidth(3.0)

fig.savefig("out.png", dpi=100)
